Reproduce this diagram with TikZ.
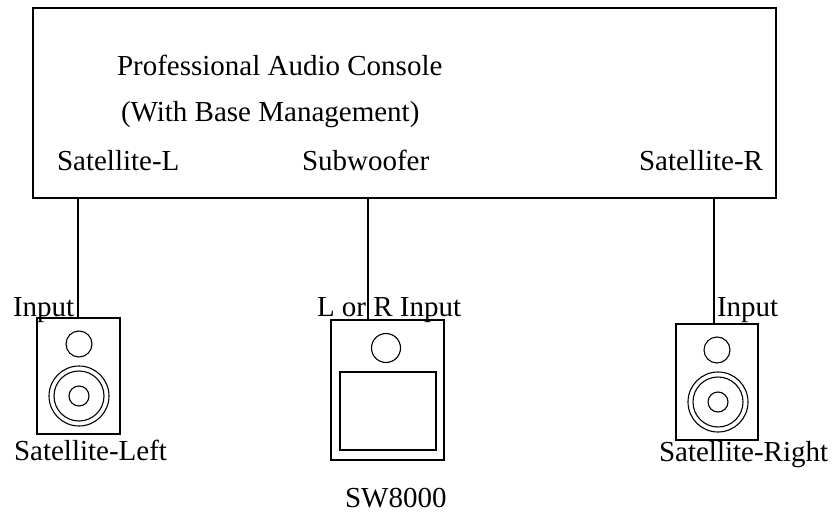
\documentclass[tikz,border=0pt]{standalone}
\usepackage{fontspec}
\setmainfont{Liberation Serif}
\begin{document}
\begin{tikzpicture}[x=1pt,y=-1pt,
  lbl/.style={anchor=base west,inner sep=0pt,outer sep=0pt,font=\fontsize{29}{34}\selectfont},
  box/.style={draw,line width=1.2pt,inner sep=0pt,outer sep=0pt},
  wire/.style={line width=1.1pt},
  part/.style={line width=1.1pt}]
\useasboundingbox (0,0) rectangle (832,513);
% console
\node[box,minimum width=743pt,minimum height=190pt] (console) at (404.5,103) {};
\node[lbl] (t1) at (117,76) {Professional Audio Console};
\node[lbl] (t2) at (121,122) {(With Base Management)};
\node[lbl] (outL) at (57,171) {Satellite-L};
\node[lbl] (outS) at (302,171) {Subwoofer};
\node[lbl] (outR) at (639,171) {Satellite-R};
% speakers
\node[box,minimum width=83pt,minimum height=116pt] (satL) at (78.5,376) {};
\node[box,minimum width=113pt,minimum height=140pt] (sub) at (387.5,390) {};
\node[box,minimum width=82pt,minimum height=116pt] (satR) at (717,382) {};
% input points
\coordinate (inL) at (78,318);
\coordinate (inS) at (368,320);
\coordinate (inR) at (714,324);
\draw[wire] (console.south -| inL) -- (inL);
\draw[wire] (console.south -| inS) -- (inS);
\draw[wire] (console.south -| inR) -- (inR);
% left speaker drivers
\draw[part] (79,344) circle (13);
\draw[part] (79,396) circle (30);
\draw[part] (79,396) circle (25);
\draw[part] (79,396) circle (10);
% right speaker drivers
\draw[part] (717,350) circle (13);
\draw[part] (718,402) circle (30);
\draw[part] (718,402) circle (25);
\draw[part] (718,402) circle (10);
% sub
\draw[part] (386,348) circle (14.5);
\draw[part] (340,372) rectangle (436,450);
% labels
\node[lbl] (iL) at (13,316) {Input};
\node[lbl] (iS) at (317,316) {L or R Input};
\node[lbl] (iR) at (717,316) {Input};
\node[lbl] (nL) at (14,460) {Satellite-Left};
\node[lbl] (nR) at (659,461) {Satellite-Right};
\node[lbl] (nS) at (345,507) {SW8000};
\end{tikzpicture}
\end{document}
